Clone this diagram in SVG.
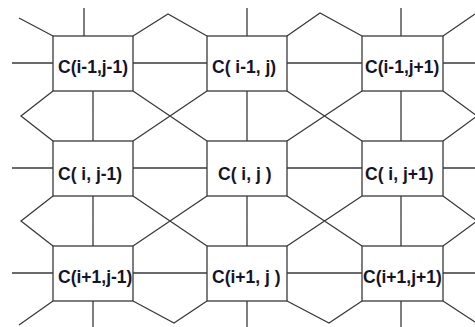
<svg xmlns="http://www.w3.org/2000/svg" width="475" height="327" viewBox="0 0 475 327">
<style>
.box{fill:#fff;stroke:#3a3a3a;stroke-width:1.3}
.ln{fill:none;stroke:#3a3a3a;stroke-width:1.3;stroke-linejoin:miter}
.lbl{font-family:"Liberation Sans",Arial,sans-serif;font-weight:bold;font-size:17.5px;fill:#141428}
</style>
<rect width="475" height="327" fill="#fff"/>
<g id="connectors" class="ln">
<!-- row horizontals -->
<path d="M12,63H53M133,63H207M287,63H362M443,63H475"/>
<path d="M12,168H53M133,168H207M287,168H362M443,168H475"/>
<path d="M12,273H53M133,273H207M287,273H362M443,273H475"/>
<!-- top -->
<path d="M84,8V36M247,8V36M401,8V36"/>
<path d="M19,18L53,36M133,36L168,14L207,36M287,36L320,13L362,36M443,36L475,14"/>
<!-- gap between row 1 and row 2 -->
<path d="M53,91L21,116L53,141M93,91V141M133,91L207,141M207,91L133,141M247,91V141M287,91L362,141M362,91L287,141M401,91V141M443,91L477,116L443,141"/>
<!-- gap between row 2 and row 3 -->
<path d="M53,196L21,221L53,246M93,196V246M133,196L207,246M207,196L133,246M247,196V246M287,196L362,246M362,196L287,246M401,196V246M443,196L477,221L443,246"/>
<!-- bottom -->
<path d="M53,301L19,325M93,301V327M133,301L174,323L207,301M247,301V327M287,301L329,323L362,301M401,301V327M443,301L475,322"/>
</g>
<g id="c_im1_jm1"><rect class="box" x="53" y="36" width="80" height="55"/><text class="lbl" x="58" y="73">C(i-1,j-1)</text></g>
<g id="c_im1_j"><rect class="box" x="207" y="36" width="80" height="55"/><text class="lbl" x="212" y="73">C( i-1, j)</text></g>
<g id="c_im1_jp1"><rect class="box" x="362" y="36" width="81" height="55"/><text class="lbl" x="365" y="73">C(i-1,j+1)</text></g>
<g id="c_i_jm1"><rect class="box" x="53" y="141" width="80" height="55"/><text class="lbl" x="58" y="180">C( i, j-1)</text></g>
<g id="c_i_j"><rect class="box" x="207" y="141" width="80" height="55"/><text class="lbl" x="218" y="180">C( i, j )</text></g>
<g id="c_i_jp1"><rect class="box" x="362" y="141" width="81" height="55"/><text class="lbl" x="365" y="180">C( i, j+1)</text></g>
<g id="c_ip1_jm1"><rect class="box" x="53" y="246" width="80" height="55"/><text class="lbl" x="58" y="283">C(i+1,j-1)</text></g>
<g id="c_ip1_j"><rect class="box" x="207" y="246" width="80" height="55"/><text class="lbl" x="212" y="283">C(i+1, j )</text></g>
<g id="c_ip1_jp1"><rect class="box" x="362" y="246" width="81" height="55"/><text class="lbl" x="363" y="283">C(i+1,j+1)</text></g>
</svg>
